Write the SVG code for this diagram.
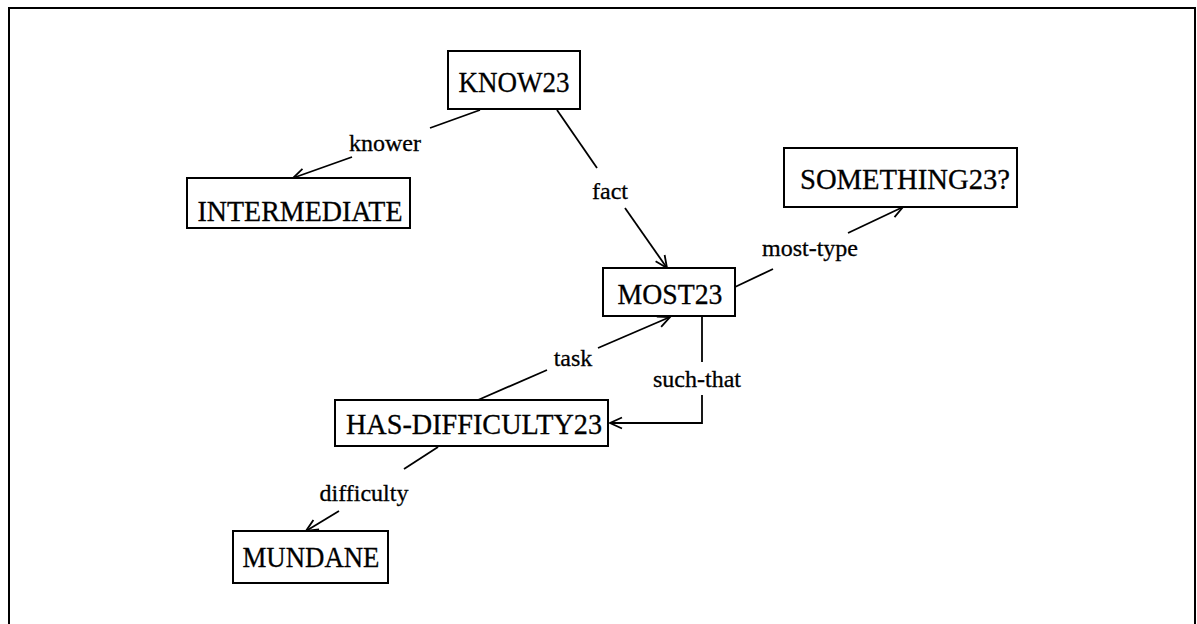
<svg xmlns="http://www.w3.org/2000/svg" width="1197" height="624" viewBox="0 0 1197 624">
  <defs>
    <marker id="arrow" markerUnits="userSpaceOnUse" markerWidth="16" markerHeight="16" refX="13" refY="7" orient="auto">
      <path d="M1,1.5 L13,7 L1,12.5" fill="none" stroke="#000" stroke-width="1.8"/>
    </marker>
  </defs>
  <style>
    .box { fill: #fff; stroke: #000; stroke-width: 2; }
    .node { font-family: "Liberation Serif", "Times New Roman", serif; font-size: 30px; fill: #000; stroke: #000; stroke-width: 0.3; text-anchor: middle; }
    .label { font-family: "Liberation Serif", "Times New Roman", serif; font-size: 24px; fill: #000; stroke: #000; stroke-width: 0.3; text-anchor: middle; }
    .edge { fill: none; stroke: #000; stroke-width: 1.8; }
    .frame { fill: none; stroke: #000; stroke-width: 2; }
  </style>
  <rect width="1197" height="624" fill="#fff"/>

  <!-- outer frame: top, left and right sides -->
  <path class="frame" d="M9,624 V8 H1195 V624"/>

  <!-- connectors, broken where their labels sit -->
  <g id="connectors">
    <g id="edge-knower">
      <line class="edge" x1="480" y1="110" x2="430" y2="128"/>
      <line class="edge" x1="352" y1="157" x2="293" y2="178" marker-end="url(#arrow)"/>
      <text class="label" x="385" y="151">knower</text>
    </g>
    <g id="edge-fact">
      <line class="edge" x1="557" y1="110" x2="597" y2="168"/>
      <line class="edge" x1="625" y1="208" x2="667" y2="268" marker-end="url(#arrow)"/>
      <text class="label" x="610" y="199">fact</text>
    </g>
    <g id="edge-most-type">
      <line class="edge" x1="735" y1="287" x2="773" y2="269"/>
      <line class="edge" x1="848" y1="233" x2="903" y2="207" marker-end="url(#arrow)"/>
      <text class="label" x="810" y="256">most-type</text>
    </g>
    <g id="edge-task">
      <line class="edge" x1="478" y1="400" x2="547" y2="370"/>
      <line class="edge" x1="598" y1="348" x2="670" y2="317" marker-end="url(#arrow)"/>
      <text class="label" x="573" y="366">task</text>
    </g>
    <g id="edge-such-that">
      <line class="edge" x1="702" y1="316" x2="702" y2="362"/>
      <polyline class="edge" points="702,395 702,423 610,423" marker-end="url(#arrow)"/>
      <text class="label" x="697" y="387">such-that</text>
    </g>
    <g id="edge-difficulty">
      <line class="edge" x1="438" y1="447" x2="404" y2="469"/>
      <line class="edge" x1="339" y1="511" x2="306" y2="531" marker-end="url(#arrow)"/>
      <text class="label" x="364" y="501">difficulty</text>
    </g>
  </g>

  <!-- concept nodes -->
  <g id="node-know23">
    <rect class="box" x="448" y="51" width="132" height="58"/>
    <text class="node" x="514" y="92" textLength="111" lengthAdjust="spacingAndGlyphs">KNOW23</text>
  </g>
  <g id="node-intermediate">
    <rect class="box" x="187" y="178" width="223" height="50"/>
    <text class="node" x="300" y="221" textLength="205" lengthAdjust="spacingAndGlyphs">INTERMEDIATE</text>
  </g>
  <g id="node-something23">
    <rect class="box" x="784" y="148" width="233" height="59"/>
    <text class="node" x="905" y="189" textLength="210" lengthAdjust="spacingAndGlyphs">SOMETHING23?</text>
  </g>
  <g id="node-most23">
    <rect class="box" x="603" y="268" width="132" height="48"/>
    <text class="node" x="670" y="304" textLength="105" lengthAdjust="spacingAndGlyphs">MOST23</text>
  </g>
  <g id="node-has-difficulty23">
    <rect class="box" x="335" y="400" width="273" height="46"/>
    <text class="node" x="474" y="434" textLength="256" lengthAdjust="spacingAndGlyphs">HAS-DIFFICULTY23</text>
  </g>
  <g id="node-mundane">
    <rect class="box" x="233" y="531" width="155" height="52"/>
    <text class="node" x="311" y="567" textLength="137" lengthAdjust="spacingAndGlyphs">MUNDANE</text>
  </g>
</svg>
